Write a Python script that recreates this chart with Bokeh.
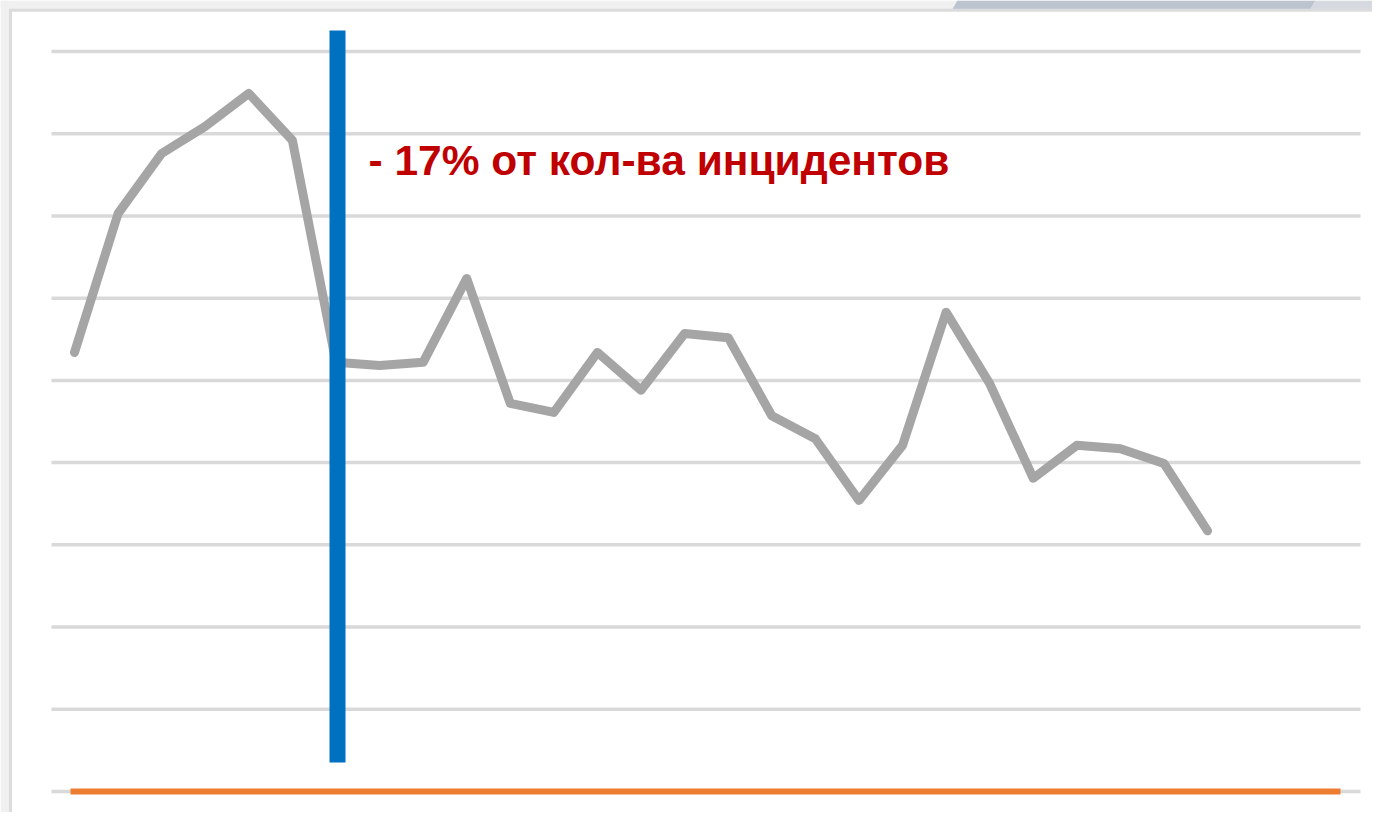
from bokeh.plotting import figure
from bokeh.models import Range1d, ColumnDataSource
from bokeh.core.properties import value
from bokeh.embed import file_html
from bokeh.resources import INLINE

# ---- data (values in gridline units) ----
periods = list(range(27))
incidents = [5.34, 7.03, 7.76, 8.09, 8.49, 7.92, 5.22, 5.18, 5.22, 6.24,
             4.72, 4.61, 5.34, 4.88, 5.57, 5.52, 4.57, 4.29, 3.54, 4.21,
             5.83, 4.96, 3.81, 4.21, 4.17, 3.99, 3.17]
grid_levels = [0, 1, 2, 3, 4, 5, 6, 7, 8, 9]
baseline_level = [0]
annotation_text = ["- 17% от кол-ва инцидентов"]
change_point = 6.035  # position of the vertical marker (period index)

# ---- layout constants (pixels) ----
W, H = 1372, 812
x0_px, dx_px = 74.0, 43.58      # x of period 0, px per period
y0_px, dy_px = 791.0, 82.22     # y (from top) of level 0, px per level

def xd(px):
    return (px - x0_px) / dx_px

def yd(py):
    return (y0_px - py) / dy_px

p = figure(width=W, height=H, output_backend="svg", toolbar_location=None,
           x_range=Range1d(xd(0), xd(W)), y_range=Range1d(yd(H), yd(0)),
           min_border=0)
p.axis.visible = False
p.grid.visible = False
p.outline_line_color = None
p.background_fill_color = "white"
p.border_fill_color = "white"

# slide decoration: gray margin strips and top band
p.quad(left=[xd(0), xd(0)], right=[xd(W), xd(8.5)],
       top=[yd(0), yd(0)], bottom=[yd(8.5), yd(H)],
       fill_color="#f0f0f0", line_color=None)
p.patch(x=[xd(952), xd(957), xd(1315), xd(1310)],
        y=[yd(8.5), yd(0), yd(0), yd(8.5)],
        fill_color="#bcc4d0", line_color=None)
p.patch(x=[xd(1310), xd(1315), xd(W), xd(W)],
        y=[yd(8.5), yd(0), yd(0), yd(8.5)],
        fill_color="#d6dae0", line_color=None)
# card border (top & left)
p.segment(x0=[xd(8.5), xd(10)], y0=[yd(9.8), yd(8.5)],
          x1=[xd(W), xd(10)], y1=[yd(9.8), yd(H)],
          line_color="#dcdcdc", line_width=3)

# horizontal gridlines
gsrc = ColumnDataSource(dict(y=grid_levels,
                             x0=[xd(51)] * len(grid_levels),
                             x1=[xd(1360)] * len(grid_levels)))
p.segment(x0="x0", y0="y", x1="x1", y1="y", source=gsrc,
          line_color="#d9d9d9", line_width=3.5)

# orange baseline series
bsrc = ColumnDataSource(dict(y=baseline_level, x0=[xd(70)], x1=[xd(1340)]))
p.segment(x0="x0", y0="y", x1="x1", y1="y", source=bsrc,
          line_color="#ed7d31", line_width=6)

# gray incidents line
p.line(periods, incidents, line_color="#a5a5a5", line_width=9,
       line_join="round", line_cap="round")

# blue vertical marker
p.segment(x0=[change_point], y0=[yd(762)], x1=[change_point], y1=[yd(30)],
          line_color="#0070c0", line_width=16, line_cap="butt")

# annotation text
p.text(x=[xd(368)], y=[yd(160)], text=annotation_text,
       text_color="#c00000", text_font=value("Liberation Sans"),
       text_font_style="bold", text_font_size="42.5px",
       text_baseline="alphabetic", text_align="left")

open("out.html", "w").write(file_html(p, INLINE))
